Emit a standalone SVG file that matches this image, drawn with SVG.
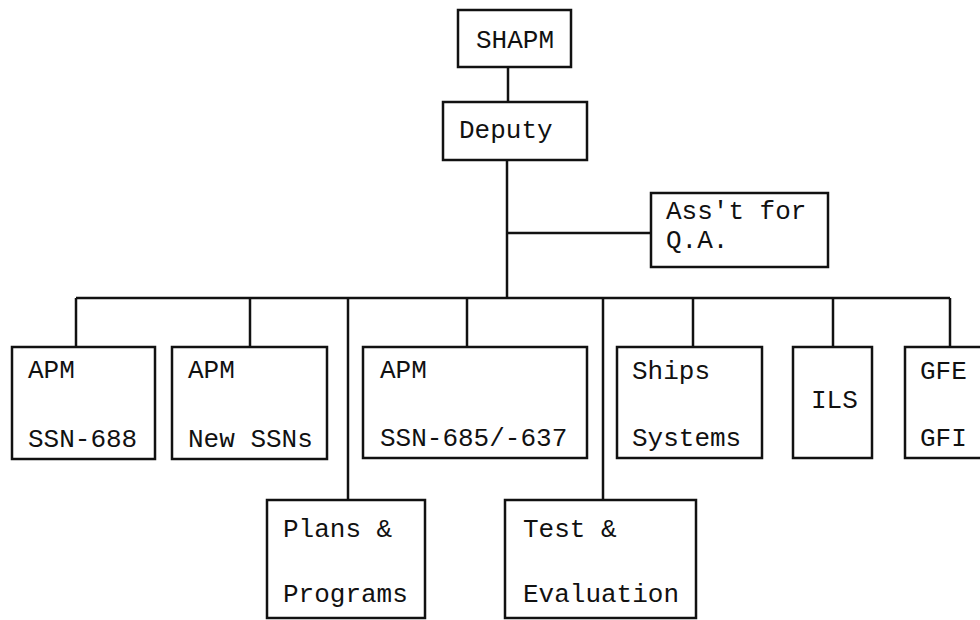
<svg xmlns="http://www.w3.org/2000/svg" width="980" height="620" viewBox="0 0 980 620">
<style>
.box{fill:#fff;stroke:#111;stroke-width:2.5}
.ln{fill:none;stroke:#111;stroke-width:2.5}
text{font-family:"Liberation Mono","Courier New",monospace;font-size:26px;fill:#111}
</style>
<rect width="980" height="620" fill="#fff"/>
<g id="connectors">
<path class="ln" d="M508 67V102"/>
<path class="ln" d="M507 160V298"/>
<path class="ln" d="M507 233H651"/>
<path class="ln" d="M76 298H950"/>
<path class="ln" d="M76 298V347"/>
<path class="ln" d="M250 298V347"/>
<path class="ln" d="M348 298V500"/>
<path class="ln" d="M467 298V347"/>
<path class="ln" d="M603 298V500"/>
<path class="ln" d="M693 298V347"/>
<path class="ln" d="M833 298V347"/>
<path class="ln" d="M950 298V347"/>
</g>
<g id="shapm"><rect class="box" x="458" y="10" width="113" height="57"/><text x="476" y="48">SHAPM</text></g>
<g id="deputy"><rect class="box" x="443" y="102" width="144" height="58"/><text x="459" y="138">Deputy</text></g>
<g id="asst"><rect class="box" x="651" y="193" width="177" height="74"/><text x="666" y="219">Ass't for</text><text x="666" y="248">Q.A.</text></g>
<g id="apm688"><rect class="box" x="12" y="347" width="143" height="112"/><text x="28" y="378">APM</text><text x="28" y="447">SSN-688</text></g>
<g id="apmnew"><rect class="box" x="172" y="347" width="155" height="112"/><text x="188" y="378">APM</text><text x="188" y="447">New SSNs</text></g>
<g id="apm685"><rect class="box" x="363" y="347" width="224" height="111"/><text x="380" y="378">APM</text><text x="380" y="446">SSN-685/-637</text></g>
<g id="ships"><rect class="box" x="617" y="347" width="145" height="111"/><text x="632" y="379">Ships</text><text x="632" y="446">Systems</text></g>
<g id="ils"><rect class="box" x="793" y="347" width="79" height="111"/><text x="811" y="408">ILS</text></g>
<g id="gfe"><rect class="box" x="905" y="347" width="90" height="111"/><text x="920" y="379">GFE</text><text x="920" y="446">GFI</text></g>
<g id="plans"><rect class="box" x="267" y="500" width="158" height="118"/><text x="283" y="537">Plans &amp;</text><text x="283" y="602">Programs</text></g>
<g id="test"><rect class="box" x="505" y="500" width="191" height="118"/><text x="523" y="537">Test &amp;</text><text x="523" y="602">Evaluation</text></g>
</svg>
